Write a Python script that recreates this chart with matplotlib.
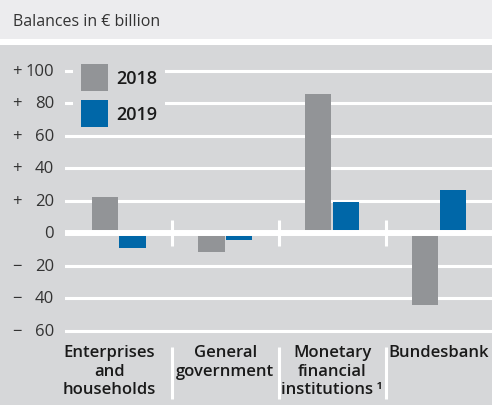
import matplotlib as mpl
mpl.use('Agg')
import matplotlib.pyplot as plt
import matplotlib.transforms as mtransforms
from matplotlib.patches import Rectangle

categories = ["Enterprises\nand\nhouseholds", "General\ngovernment",
              "Monetary\nfinancial\ninstitutions\u2009\u00b9", "Bundesbank"]
years = ["2018", "2019"]
values_2018 = [22.5, -11.5, 86, -44.5]
values_2019 = [-9, -4, 19.5, 26.5]
yticks = [100, 80, 60, 40, 20, 0, -20, -40, -60]

GRAY = "#929497"
BLUE = "#0067a8"
BG = "#d6d7d9"
TOP = "#ececee"
W, H = 492, 406

plt.rcParams['font.family'] = ['Open Sans', 'DejaVu Sans']

fig = plt.figure(figsize=(W / 100, H / 100), dpi=100)
fig.patch.set_facecolor("white")

def fx(x):
    return x / W

def fy(y):
    return 1 - y / H

# background bands
fig.add_artist(Rectangle((0, fy(40)), 1, 40 / H, transform=fig.transFigure,
                         facecolor=TOP, edgecolor="none", zorder=-5))
fig.add_artist(Rectangle((0, 0), 1, fy(46), transform=fig.transFigure,
                         facecolor=BG, edgecolor="none", zorder=-5))
fig.text(fx(13), fy(21.5), "Balances in \u20ac billion", fontsize=11.5,
         color="#333333", va="center", ha="left")

# axes: y scale 1.624 px per unit, zero at y=234.2
ymin, ymax = -66, 108
zero_px, scale = 234.2, 1.624
top_px = zero_px - ymax * scale
bot_px = zero_px - ymin * scale
ax = fig.add_axes([fx(65.3), fy(bot_px), (492.3 - 65.3) / W, (bot_px - top_px) / H])
ax.set_facecolor("none")
ax.set_xlim(-0.5, 3.5)
ax.set_ylim(ymin, ymax)
ax.axis("off")

for t in yticks:
    if t != 0:
        ax.axhline(t, color="white", lw=2.2, zorder=1)

xs = range(len(categories))
bw = 0.245
ax.bar([x - 0.13 for x in xs], values_2018, width=bw, color=GRAY, zorder=2)
ax.bar([x + 0.13 for x in xs], values_2019, width=bw, color=BLUE, zorder=2)
ax.axhline(0, color="white", lw=4.3, zorder=3)
for x in [0.5, 1.5, 2.5]:
    ax.plot([x, x], [-8, 8], color="white", lw=2.2, zorder=3, solid_capstyle="butt")

# tick labels
tr = mtransforms.blended_transform_factory(fig.transFigure, ax.transData)
for t in yticks:
    if t > 0:
        ax.text(fx(12), t, "+", transform=tr, ha="left", va="center",
                fontsize=12, color="#333333")
    elif t < 0:
        ax.text(fx(12), t, "\u2212", transform=tr, ha="left", va="center",
                fontsize=12, color="#333333")
    ax.text(fx(54), t, str(abs(t)), transform=tr, ha="right", va="center",
            fontsize=12, color="#333333")

# category labels
label_off = [-0.085, 0, 0, 0]
trc = mtransforms.blended_transform_factory(ax.transData, fig.transFigure)
for x, lab, off in zip(xs, categories, label_off):
    ax.text(x + off, fy(345), lab, transform=trc, ha="center", va="top",
            fontsize=12, fontweight="semibold", color="#1a1a1a", linespacing=1.22)
for x in [0.5, 1.5, 2.5]:
    ax.plot([x, x], [fy(348), fy(400)], transform=trc, color="white", lw=2.2,
            clip_on=False, solid_capstyle="butt")

# legend
fig.add_artist(Rectangle((fx(72.7), fy(132)), (165 - 72.7) / W, 72 / H,
                         transform=fig.transFigure, facecolor=BG,
                         edgecolor="none", zorder=5))
for (yc, col, yr) in [(78.5, GRAY, years[0]), (114.5, BLUE, years[1])]:
    fig.add_artist(Rectangle((fx(81), fy(yc + 13.5)), 27 / W, 27 / H,
                             transform=fig.transFigure, facecolor=col,
                             edgecolor="none", zorder=6))
    fig.text(fx(116), fy(yc + 1), yr, fontsize=13, fontweight="semibold",
             color="#1a1a1a", va="center", ha="left", zorder=7)

fig.savefig("out.png", dpi=100)
